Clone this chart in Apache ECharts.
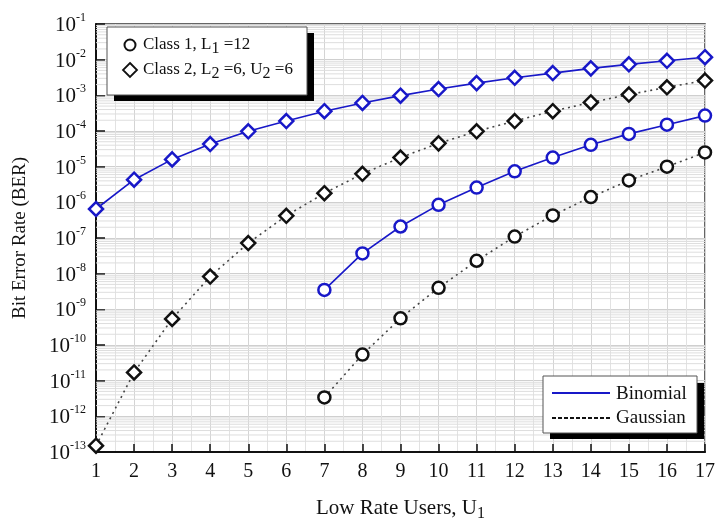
<!DOCTYPE html>
<html>
<head>
<meta charset="utf-8">
<script src="https://cdn.jsdelivr.net/npm/echarts@6/dist/echarts.min.js"></script>
<style>
  html, body { margin: 0; padding: 0; background: #fff; }
  #chart { width: 719px; height: 522px; }
</style>
</head>
<body>
<div id="chart"></div>
<script>
// Number of low rate users U1
const users = [1, 2, 3, 4, 5, 6, 7, 8, 9, 10, 11, 12, 13, 14, 15, 16, 17];

// Class 2 (L2 = 6, U2 = 6)
const class2Binomial = [6.5e-7, 4.3e-6, 1.6e-5, 4.3e-5, 9.8e-5, 1.9e-4, 3.6e-4, 6.1e-4,
  9.8e-4, 1.5e-3, 2.2e-3, 3.1e-3, 4.2e-3, 5.7e-3, 7.4e-3, 9.3e-3, 1.17e-2];
const class2Gaussian = [1.5e-13, 1.7e-11, 5.4e-10, 8.3e-9, 7.2e-8, 4.2e-7, 1.8e-6, 6.3e-6,
  1.8e-5, 4.5e-5, 9.8e-5, 1.9e-4, 3.6e-4, 6.3e-4, 1.05e-3, 1.68e-3, 2.6e-3];

// Class 1 (L1 = 12), starting at U1 = 7
const class1Users = [7, 8, 9, 10, 11, 12, 13, 14, 15, 16, 17];
const class1Binomial = [3.5e-9, 3.7e-8, 2.1e-7, 8.5e-7, 2.6e-6, 7.4e-6, 1.8e-5, 4.1e-5,
  8.3e-5, 1.5e-4, 2.7e-4];
const class1Gaussian = [3.4e-12, 5.4e-11, 5.6e-10, 4.0e-9, 2.3e-8, 1.1e-7, 4.3e-7, 1.4e-6,
  4.1e-6, 1.0e-5, 2.5e-5];

// Decade exponents shown on the BER axis
const yExponents = [-13, -12, -11, -10, -9, -8, -7, -6, -5, -4, -3, -2, -1];

const SERIF = '"Liberation Serif", "DejaVu Serif", serif';
const BLUE = '#1818c8';
const BLACK = '#111';

function pairs(xs, ys) { return xs.map((x, i) => [x, ys[i]]); }

// Log-scale minor grid values at 2..9 x 10^n
const minorLogValues = [];
for (let e = yExponents[0]; e < yExponents[yExponents.length - 1]; e++) {
  for (let k = 2; k <= 9; k++) minorLogValues.push(k * Math.pow(10, e));
}

const chart = echarts.init(document.getElementById('chart'));

chart.setOption({
  animation: false,
  backgroundColor: '#fff',
  textStyle: { fontFamily: SERIF },
  grid: {
    left: 96, right: 14, top: 24, bottom: 70,
    outerBoundsMode: 'none', containLabel: false,
    show: true, borderColor: '#333', borderWidth: 1.5, backgroundColor: 'transparent'
  },
  xAxis: {
    type: 'value',
    min: users[0], max: users[users.length - 1], interval: 1,
    name: '{t|Low Rate Users, U}{s|1}',
    nameLocation: 'middle', nameGap: 42,
    nameTextStyle: {
      rich: {
        t: { fontFamily: SERIF, fontSize: 21, color: '#111' },
        s: { fontFamily: SERIF, fontSize: 16, color: '#111', padding: [12, 0, 0, 0] }
      }
    },
    axisLine: { show: true, onZero: false, lineStyle: { color: '#111', width: 2 } },
    axisTick: { show: true, inside: true, length: 8, lineStyle: { color: '#111', width: 1.5 } },
    axisLabel: { margin: 10, fontFamily: SERIF, fontSize: 20, color: '#111' },
    splitLine: { show: true, lineStyle: { color: '#d4d4d4', width: 1 } },
    minorTick: { show: false, splitNumber: 2 },
    minorSplitLine: { show: true, lineStyle: { color: '#e2e2e2', width: 1 } }
  },
  yAxis: {
    type: 'log', logBase: 10,
    min: Math.pow(10, yExponents[0]), max: Math.pow(10, yExponents[yExponents.length - 1]),
    interval: 1,
    name: 'Bit Error Rate (BER)',
    nameLocation: 'middle', nameGap: 66,
    nameTextStyle: { fontFamily: SERIF, fontSize: 19, color: '#111' },
    axisLine: { show: true, lineStyle: { color: '#111', width: 2 } },
    axisTick: { show: true, inside: true, length: 9, lineStyle: { color: '#111', width: 1.5 } },
    axisLabel: {
      margin: 10,
      formatter: v => '{b|10}{s|' + Math.round(Math.log10(v)) + '}',
      rich: {
        b: { fontFamily: SERIF, fontSize: 21, color: '#111', verticalAlign: 'bottom', lineHeight: 24 },
        s: { fontFamily: SERIF, fontSize: 12, color: '#111', verticalAlign: 'top', lineHeight: 24, padding: [0, 0, 12, 0] }
      }
    },
    splitLine: { show: true, lineStyle: { color: '#cfcfcf', width: 1 } }
  },
  series: [
    {
      // logarithmic minor grid, one horizontal rule per value
      name: 'grid-minor',
      type: 'custom', silent: true, z: 1,
      data: minorLogValues.map(v => [users[0], v]),
      encode: { x: 0, y: 1 },
      renderItem: (params, api) => {
        const cs = params.coordSys;
        const p = api.coord([api.value(0), api.value(1)]);
        return {
          type: 'line', silent: true,
          shape: { x1: cs.x, y1: p[1], x2: cs.x + cs.width, y2: p[1] },
          style: { stroke: '#dedede', lineWidth: 1 }
        };
      }
    },
    {
      name: 'Class 2 Gaussian', type: 'line', data: pairs(users, class2Gaussian),
      symbol: 'diamond', symbolSize: 14,
      lineStyle: { color: '#444', width: 1.6, type: [2, 4] },
      itemStyle: { color: '#fff', borderColor: BLACK, borderWidth: 2.5 }, z: 3
    },
    {
      name: 'Class 1 Gaussian', type: 'line', data: pairs(class1Users, class1Gaussian),
      symbol: 'circle', symbolSize: 12,
      lineStyle: { color: '#444', width: 1.6, type: [2, 4] },
      itemStyle: { color: '#fff', borderColor: BLACK, borderWidth: 2.5 }, z: 3
    },
    {
      name: 'Class 2 Binomial', type: 'line', data: pairs(users, class2Binomial),
      symbol: 'diamond', symbolSize: 14,
      lineStyle: { color: BLUE, width: 1.6 },
      itemStyle: { color: '#fff', borderColor: BLUE, borderWidth: 2.5 }, z: 4
    },
    {
      name: 'Class 1 Binomial', type: 'line', data: pairs(class1Users, class1Binomial),
      symbol: 'circle', symbolSize: 12,
      lineStyle: { color: BLUE, width: 1.6 },
      itemStyle: { color: '#fff', borderColor: BLUE, borderWidth: 2.5 }, z: 4
    }
  ],
  graphic: [
    // class legend (top left)
    { type: 'rect', shape: { x: 114, y: 33, width: 200, height: 68 }, style: { fill: '#000' }, z: 50 },
    { type: 'rect', shape: { x: 107, y: 27, width: 200, height: 68 }, style: { fill: '#fff', stroke: '#555', lineWidth: 1 }, z: 51 },
    { type: 'circle', shape: { cx: 130, cy: 45, r: 5.5 }, style: { fill: '#fff', stroke: '#111', lineWidth: 2 }, z: 52 },
    {
      type: 'text', x: 143, y: 45, z: 52,
      style: {
        text: '{t|Class 1, L}{s|1}{t| =12}', verticalAlign: 'middle',
        rich: {
          t: { fontFamily: SERIF, fontSize: 17, fill: '#111' },
          s: { fontFamily: SERIF, fontSize: 16, fill: '#111', padding: [8, 0, 0, 0] }
        }
      }
    },
    { type: 'polygon', shape: { points: [[130, 63], [137, 70], [130, 77], [123, 70]] }, style: { fill: '#fff', stroke: '#111', lineWidth: 1.8 }, z: 52 },
    {
      type: 'text', x: 143, y: 70, z: 52,
      style: {
        text: '{t|Class 2, L}{s|2}{t| =6, U}{s|2}{t| =6}', verticalAlign: 'middle',
        rich: {
          t: { fontFamily: SERIF, fontSize: 17, fill: '#111' },
          s: { fontFamily: SERIF, fontSize: 16, fill: '#111', padding: [8, 0, 0, 0] }
        }
      }
    },
    // model legend (bottom right)
    { type: 'rect', shape: { x: 550, y: 383, width: 154, height: 56 }, style: { fill: '#000' }, z: 50 },
    { type: 'rect', shape: { x: 543, y: 376, width: 154, height: 57 }, style: { fill: '#fff', stroke: '#555', lineWidth: 1 }, z: 51 },
    { type: 'line', shape: { x1: 552, y1: 393, x2: 610, y2: 393 }, style: { stroke: BLUE, lineWidth: 2 }, z: 52 },
    { type: 'text', x: 616, y: 394, z: 52, style: { text: 'Binomial', fontFamily: SERIF, fontSize: 19, fill: '#111', verticalAlign: 'middle' } },
    { type: 'line', shape: { x1: 552, y1: 418, x2: 610, y2: 418 }, style: { stroke: '#111', lineWidth: 2, lineDash: [4, 2] }, z: 52 },
    { type: 'text', x: 616, y: 418, z: 52, style: { text: 'Gaussian', fontFamily: SERIF, fontSize: 19, fill: '#111', verticalAlign: 'middle' } }
  ]
});
</script>
</body>
</html>
